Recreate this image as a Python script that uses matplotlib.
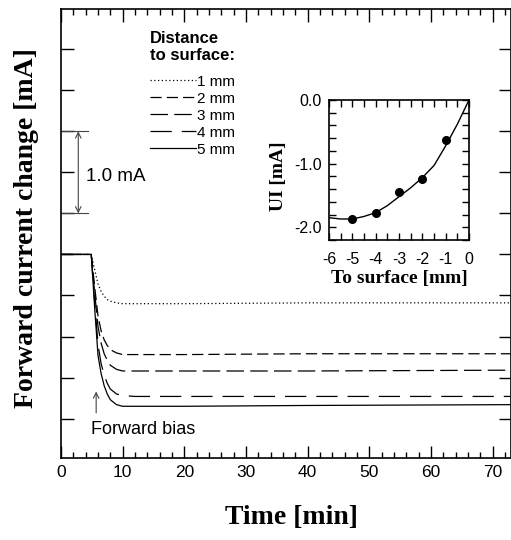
import matplotlib
matplotlib.use("Agg")
import matplotlib.pyplot as plt
from matplotlib.ticker import MultipleLocator, NullFormatter, FormatStrFormatter

# ---------------- data ----------------
time_min = [0, 4.9, 5.5, 6.0, 6.5, 7.0, 7.5, 8.0, 9.0, 10.0, 12.0, 20.0, 40.0, 73.0]
curve_1mm = [0, 0, -0.20, -0.36, -0.45, -0.51, -0.55, -0.57, -0.59, -0.60, -0.60, -0.60, -0.59, -0.59]
curve_2mm = [0, 0, -0.42, -0.75, -0.93, -1.04, -1.11, -1.16, -1.20, -1.22, -1.22, -1.22, -1.21, -1.21]
curve_3mm = [0, 0, -0.50, -0.88, -1.08, -1.21, -1.29, -1.35, -1.40, -1.42, -1.42, -1.42, -1.42, -1.41]
curve_4mm = [0, 0, -0.62, -1.10, -1.33, -1.47, -1.57, -1.64, -1.70, -1.72, -1.73, -1.73, -1.73, -1.73]
curve_5mm = [0, 0, -0.70, -1.23, -1.45, -1.60, -1.70, -1.77, -1.83, -1.85, -1.85, -1.85, -1.84, -1.83]
labels = ["1 mm", "2 mm", "3 mm", "4 mm", "5 mm"]

inset_x = [-5, -4, -3, -2, -1]
inset_ui = [-1.87, -1.77, -1.44, -1.24, -0.63]
fit_x = [-6, -5.5, -5, -4.5, -4, -3.5, -3, -2.5, -2, -1.5, -1, -0.5, 0]
fit_y = [-1.85, -1.87, -1.87, -1.83, -1.77, -1.66, -1.52, -1.38, -1.22, -1.03, -0.72, -0.38, 0.0]

# ---------------- styling ----------------
sans = ["Liberation Sans", "DejaVu Sans"]
serif = ["Liberation Serif", "DejaVu Serif"]
plt.rcParams["font.family"] = sans

W, H = 511, 540
fig = plt.figure(figsize=(W / 100, H / 100), dpi=100)

def fig_rect(l, t, r, b):
    return [l / W, 1 - b / H, (r - l) / W, (b - t) / H]

ax = fig.add_axes(fig_rect(61, 9, 510.7, 458))
lw = 0.9
styles = [
    (0, (1, 2)),
    (0, (9, 4)),
    (0, (14, 5)),
    (0, (17, 8)),
    "-",
]
series = [curve_1mm, curve_2mm, curve_3mm, curve_4mm, curve_5mm]
for vals, ls, lab in zip(series, styles, labels):
    ax.plot(time_min, vals, color="black", lw=lw, linestyle=ls, label=lab)

ax.set_xlim(0, 72.9)
ax.set_ylim(-2.48, 2.99)
ax.xaxis.set_major_locator(MultipleLocator(10))
ax.xaxis.set_minor_locator(MultipleLocator(2))
ax.yaxis.set_major_locator(MultipleLocator(0.5))
ax.yaxis.set_major_formatter(NullFormatter())
ax.tick_params(axis="x", which="both", direction="in", top=True, bottom=True, labelsize=12.5, pad=5)
ax.tick_params(axis="x", which="major", length=9, width=1)
ax.tick_params(axis="x", which="minor", length=4.5, width=1)
ax.tick_params(axis="y", which="major", direction="in", left=True, right=True, length=9, width=1)
for s in ax.spines.values():
    s.set_linewidth(1.2)

# legend
leg = ax.legend(loc="upper left", bbox_to_anchor=(150 / W, 1 - 31 / H), bbox_transform=fig.transFigure,
                frameon=False, fontsize=11, handlelength=3.0, handletextpad=0.05,
                labelspacing=0.2, borderpad=0, borderaxespad=0,
                title="Distance\nto surface:", alignment="left",
                title_fontproperties={"family": sans, "weight": "bold", "size": 12})
leg._legend_box.sep = 8

# 1.0 mA scale bar
ax.plot([0, 4.4], [1.5, 1.5], color="#444444", lw=0.8)
ax.plot([0, 4.4], [0.5, 0.5], color="#444444", lw=0.8)
ax.annotate("", xy=(2.8, 1.5), xytext=(2.8, 0.5),
            arrowprops=dict(arrowstyle="<->", color="#444444", lw=0.8, shrinkA=0, shrinkB=0))
ax.text(4.0, 0.95, "1.0 mA", fontsize=13.5, va="center", ha="left")

# Forward bias arrow
ax.annotate("", xy=(5.7, -1.67), xytext=(5.7, -1.93),
            arrowprops=dict(arrowstyle="->", color="#444444", lw=0.8, shrinkA=0, shrinkB=0))
ax.text(4.8, -2.13, "Forward bias", fontsize=13, va="center", ha="left")

# axis labels
fig.text(291 / W, 1 - 518 / H, "Time [min]", family=serif, weight="bold", fontsize=20,
         ha="center", va="center")
fig.text(27 / W, 1 - 228 / H, "Forward current change [mA]", family=serif, weight="bold",
         fontsize=20, ha="center", va="center", rotation=90)

# ---------------- inset ----------------
ins = fig.add_axes(fig_rect(329, 100, 469, 240))
ins.plot(fit_x, fit_y, color="black", lw=1.0)
ins.plot(inset_x, inset_ui, "o", color="black", ms=5.5)
ins.set_xlim(-6, 0)
ins.set_ylim(-2.2, 0)
ins.xaxis.set_major_locator(MultipleLocator(1))
ins.xaxis.set_minor_locator(MultipleLocator(0.5))
ins.yaxis.set_major_locator(MultipleLocator(1.0))
ins.yaxis.set_minor_locator(MultipleLocator(0.2))
ins.yaxis.set_major_formatter(FormatStrFormatter("%.1f"))
ins.xaxis.set_major_formatter(FormatStrFormatter("%d"))
ins.tick_params(axis="both", which="both", direction="in", top=True, bottom=True, left=True, right=True,
                labelsize=11.5)
ins.tick_params(axis="x", which="major", length=5, width=1, pad=9)
ins.tick_params(axis="x", which="minor", length=5, width=1)
ins.tick_params(axis="y", which="major", length=5, width=1, pad=5)
ins.tick_params(axis="y", which="minor", length=5, width=1)
for s in ins.spines.values():
    s.set_linewidth(1.2)
fig.text(399 / W, 1 - 278 / H, "To surface [mm]", family=serif, weight="bold", fontsize=14,
         ha="center", va="center")
fig.text(278 / W, 1 - 176 / H, "UI [mA]", family=serif, weight="bold", fontsize=14,
         ha="center", va="center", rotation=90)

fig.savefig("out.png", dpi=100)
